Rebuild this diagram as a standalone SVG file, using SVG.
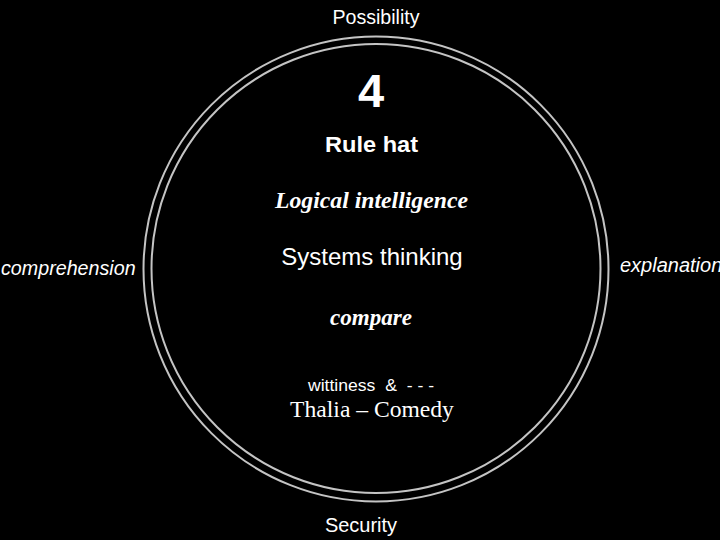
<svg xmlns="http://www.w3.org/2000/svg" width="720" height="540" viewBox="0 0 720 540">
<style>
.ring{fill:none;stroke:#c4c4c4;stroke-width:2}
.s{font-family:"Liberation Sans",Arial,sans-serif;fill:#fff}
.r{font-family:"Liberation Serif","Times New Roman",serif;fill:#fff}
.c{text-anchor:middle}
</style>
<rect width="720" height="540" fill="#000"/>
<g id="circle">
<circle class="ring" cx="376" cy="269" r="232.5"/>
<circle class="ring" cx="376" cy="268.5" r="224.5"/>
</g>
<g id="center">
<text class="s c" x="371" y="107" font-size="47" font-weight="bold">4</text>
<text class="s c" x="371.5" y="152" font-size="22" font-weight="bold" textLength="93" lengthAdjust="spacingAndGlyphs">Rule hat</text>
<text class="r c" x="371.5" y="208" font-size="23" font-weight="bold" font-style="italic" textLength="193" lengthAdjust="spacingAndGlyphs">Logical intelligence</text>
<text class="s c" x="372" y="265" font-size="24">Systems thinking</text>
<text class="r c" x="371" y="325" font-size="23" font-weight="bold" font-style="italic" textLength="82" lengthAdjust="spacingAndGlyphs">compare</text>
<text class="s c" x="371" y="391" font-size="16" textLength="126" lengthAdjust="spacingAndGlyphs" xml:space="preserve">wittiness  &amp;  - - -</text>
<text class="r c" x="372" y="417" font-size="23.6">Thalia – Comedy</text>
</g>
<g id="top"><text class="s c" x="376" y="24" font-size="19.6">Possibility</text></g>
<g id="bottom"><text class="s c" x="361" y="532" font-size="20">Security</text></g>
<g id="left"><text class="s" x="1" y="275" font-size="19.7" font-style="italic">comprehension</text></g>
<g id="right"><text class="s" x="620" y="272" font-size="20" font-style="italic">explanation</text></g>
<g id="connectors"></g>
</svg>
